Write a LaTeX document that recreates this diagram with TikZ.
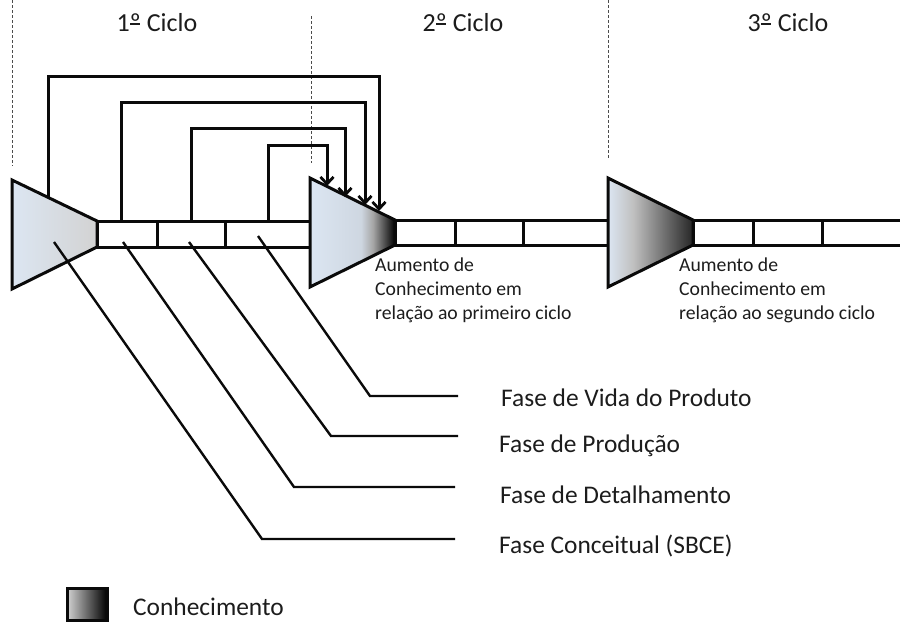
\documentclass[tikz,border=0pt]{standalone}
\usepackage{fontspec}
\setmainfont{Carlito}
\usetikzlibrary{arrows.meta}
\definecolor{ink}{HTML}{0A0A0A}
\definecolor{txt}{HTML}{1C1C1C}
\definecolor{paleblue}{HTML}{DCE6F2}
\newcommand\ordmark{º\kern-0.40em\rule[0.27em]{0.36em}{0.055em}\kern0.04em}
\pgfdeclarehorizontalshading{kfirst}{100bp}{color(0bp)=(paleblue); color(25bp)=(paleblue); color(75bp)=(gray!35); color(100bp)=(gray!35)}
\pgfdeclarehorizontalshading{ksecond}{100bp}{color(0bp)=(paleblue); color(25bp)=(paleblue); color(55bp)=(paleblue!85!gray); color(62bp)=(gray!70); color(75bp)=(black); color(100bp)=(black)}
\pgfdeclarehorizontalshading{kthird}{100bp}{color(0bp)=(paleblue); color(25bp)=(paleblue); color(40bp)=(gray!50); color(75bp)=(black!85); color(100bp)=(black!85)}
\pgfdeclarehorizontalshading{klegend}{100bp}{color(0bp)=(gray!35); color(25bp)=(gray!35); color(75bp)=(black); color(100bp)=(black)}
\tikzset{
 x=1pt,y=-1pt,
 thick line/.style={draw=ink,line width=3pt},
 barline/.style={draw=ink,line width=3pt,fill=white},
 linkarrow/.style={draw=ink,line width=3pt,line join=miter,-{Straight Barb[length=7pt,width=13pt,line width=2.8pt]}},
 leader/.style={draw=ink,line width=2.4pt},
 guide/.style={draw=black!70,line width=1pt,densely dashed},
 cyc/.style={font=\fontsize{26}{30}\selectfont,text=txt,inner sep=0pt},
 phase/.style={font=\fontsize{25.4}{30}\selectfont,text=txt,anchor=west,inner sep=0pt},
 note/.style={font=\fontsize{19.7}{24}\selectfont,text=txt,anchor=north west,align=left,inner sep=0pt},
}
\begin{document}
\begin{tikzpicture}
\useasboundingbox (0,0) rectangle (900,622);
% guides
\draw[guide] (12,0) -- (12,166);
\draw[guide] (311,16) -- (311,163);
\draw[guide] (608,0) -- (608,158);
% bars
\draw[barline] (97,221) rectangle (312,247);
\draw[barline] (157,221) -- (157,247);
\draw[barline] (225,221) -- (225,247);
\draw[barline] (395,220) rectangle (610,245);
\draw[barline] (455,220) -- (455,245);
\draw[barline] (523,220) -- (523,245);
\draw[barline] (693,220) -- (904,220) -- (904,245) -- (693,245) -- cycle;
\draw[barline] (753,220) -- (753,245);
\draw[barline] (822,220) -- (822,245);
% triangles
\draw[thick line,line join=miter,shading=kfirst] (12,180) -- (97,221) -- (97,247) -- (12,289) -- cycle;
\draw[thick line,line join=miter,shading=ksecond] (310,178) -- (395,220) -- (395,245) -- (310,287) -- cycle;
\draw[thick line,line join=miter,shading=kthird] (608,178) -- (693,220) -- (693,245) -- (608,287) -- cycle;
% named connection points
\coordinate (s1) at (48,197);
\coordinate (s2) at (121,221);
\coordinate (s3) at (191,221);
\coordinate (s4) at (268,221);
\coordinate (e1) at (379,211);
\coordinate (e2) at (365,205);
\coordinate (e3) at (345,197);
\coordinate (e4) at (327,186);
\draw[linkarrow] (s1) |- (379,76) -- (e1);
\draw[linkarrow] (s2) |- (365,102) -- (e2);
\draw[linkarrow] (s3) |- (345,128) -- (e3);
\draw[linkarrow] (s4) |- (327,145) -- (e4);
% labels
\node[cyc] (c1) at (157,23) {1\ordmark{} Ciclo};
\node[cyc] (c2) at (463,23) {2\ordmark{} Ciclo};
\node[cyc] (c3) at (788,23) {3\ordmark{} Ciclo};
\node[note] (n1) at (375,258) {Aumento de\\Conhecimento em\\relação ao primeiro ciclo};
\node[note] (n2) at (679,258) {Aumento de\\Conhecimento em\\relação ao segundo ciclo};
\node[phase] (p4) at (501,398) {Fase de Vida do Produto};
\node[phase] (p3) at (499,446) {Fase de Produção};
\node[phase] (p2) at (500,495) {Fase de Detalhamento};
\node[phase] (p1) at (499,546) {Fase Conceitual (SBCE)};
\node[phase] (lg) at (133,607) {Conhecimento};
% leaders
\coordinate (l1) at (54,242);
\coordinate (l2) at (123,242);
\coordinate (l3) at (189,242);
\coordinate (l4) at (258,236);
\draw[leader] (l4) -- (370,396) -- (458,396);
\draw[leader] (l3) -- (331,436) -- (458,436);
\draw[leader] (l2) -- (294,487) -- (455,487);
\draw[leader] (l1) -- (262,539) -- (455,539);
% legend
\draw[draw=ink,line width=3pt,shading=klegend] (67,588) rectangle (107,620);
\end{tikzpicture}
\end{document}
